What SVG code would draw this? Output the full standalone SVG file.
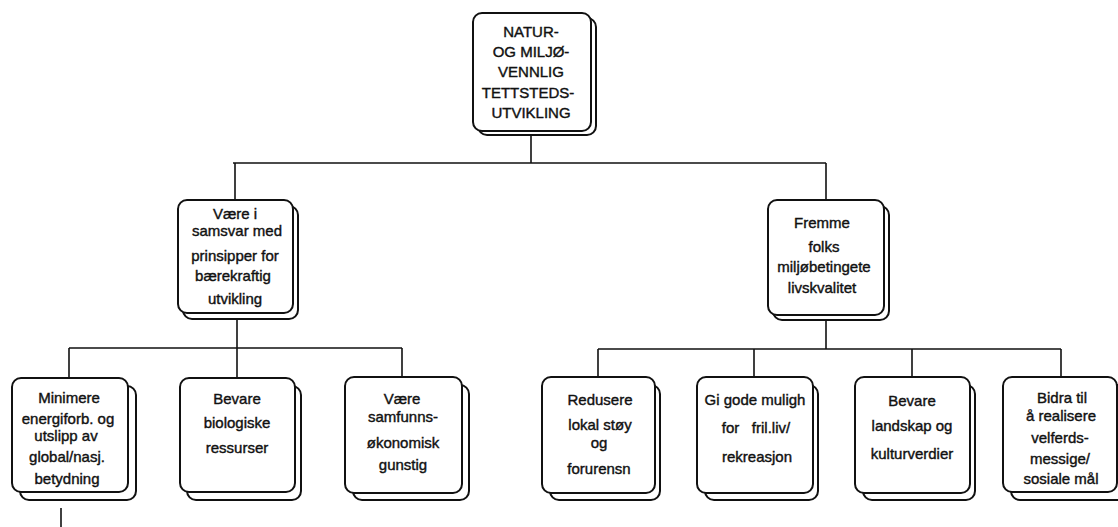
<svg xmlns="http://www.w3.org/2000/svg" width="1118" height="527" viewBox="0 0 1118 527">
<style>
.bg{fill:#ffffff}
.sh{fill:#ffffff;stroke:#111;stroke-width:2}
.box{fill:#ffffff;stroke:#111;stroke-width:2}
.t{font-family:"Liberation Sans",Arial,sans-serif;font-size:15px;fill:#111;stroke:#111;stroke-width:0.4;text-anchor:middle}
.ln{stroke:#111;stroke-width:1.6;fill:none}
</style>
<rect class="bg" x="0" y="0" width="1118" height="527"/>
<g id="connectors">
<path class="ln" d="M531 135 V163 M233 163 H826 M235 163 V200 M826 163 V200"/>
<path class="ln" d="M237 319 V348 M69 348 H402 M69 348 V378 M237 348 V378 M402 348 V377"/>
<path class="ln" d="M826 320 V349 M598 349 H1061 M598 349 V377 M754 349 V377 M912 349 V377 M1061 349 V377"/>
<path class="ln" d="M61 508 V527"/>
</g>
<g id="n-top">
<rect class="sh" x="478" y="18" width="118" height="117" rx="9"/>
<rect class="box" x="473" y="13" width="118" height="118" rx="9"/>
<text class="t" x="531" y="37">NATUR-</text>
<text class="t" x="531" y="57">OG MILJØ-</text>
<text class="t" x="531" y="77">VENNLIG</text>
<text class="t" x="528" y="98">TETTSTEDS-</text>
<text class="t" x="531" y="118">UTVIKLING</text>
</g>
<g id="n-left">
<rect class="sh" x="183" y="206" width="115" height="113" rx="9"/>
<rect class="box" x="178" y="200" width="115" height="113" rx="9"/>
<text class="t" x="235" y="219">Være i</text>
<text class="t" x="237" y="236">samsvar med</text>
<text class="t" x="235" y="261">prinsipper for</text>
<text class="t" x="233" y="281">bærekraftig</text>
<text class="t" x="235" y="304">utvikling</text>
</g>
<g id="n-right">
<rect class="sh" x="773" y="206" width="116" height="114" rx="9"/>
<rect class="box" x="768" y="200" width="116" height="115" rx="9"/>
<text class="t" x="822" y="228">Fremme</text>
<text class="t" x="824" y="252">folks</text>
<text class="t" x="824" y="272">miljøbetingete</text>
<text class="t" x="822" y="293">livskvalitet</text>
</g>
<g id="n-b1">
<rect class="sh" x="20" y="386" width="116" height="114" rx="9"/>
<rect class="box" x="12" y="378" width="116" height="114" rx="9"/>
<text class="t" x="69" y="403">Minimere</text>
<text class="t" x="68" y="424">energiforb. og</text>
<text class="t" x="66" y="441">utslipp av</text>
<text class="t" x="67" y="462">global/nasj.</text>
<text class="t" x="67" y="484">betydning</text>
</g>
<g id="n-b2">
<rect class="sh" x="187" y="386" width="114" height="114" rx="9"/>
<rect class="box" x="180" y="378" width="115" height="114" rx="9"/>
<text class="t" x="237" y="404">Bevare</text>
<text class="t" x="237" y="428">biologiske</text>
<text class="t" x="237" y="453">ressurser</text>
</g>
<g id="n-b3">
<rect class="sh" x="353" y="385" width="116" height="115" rx="9"/>
<rect class="box" x="345" y="377" width="117" height="116" rx="9"/>
<text class="t" x="402" y="404">Være</text>
<text class="t" x="403" y="422">samfunns-</text>
<text class="t" x="403" y="448">økonomisk</text>
<text class="t" x="403" y="470">gunstig</text>
</g>
<g id="n-b4">
<rect class="sh" x="550" y="385" width="110" height="115" rx="9"/>
<rect class="box" x="542" y="377" width="113" height="116" rx="9"/>
<text class="t" x="600" y="405">Redusere</text>
<text class="t" x="600" y="430">lokal støy</text>
<text class="t" x="599" y="448">og</text>
<text class="t" x="599" y="474">forurensn</text>
</g>
<g id="n-b5">
<rect class="sh" x="705" y="385" width="113" height="115" rx="9"/>
<rect class="box" x="697" y="377" width="116" height="116" rx="9"/>
<text class="t" x="755" y="405">Gi gode muligh</text>
<text class="t" x="756" y="433" xml:space="preserve">for   fril.liv/</text>
<text class="t" x="757" y="462">rekreasjon</text>
</g>
<g id="n-b6">
<rect class="sh" x="863" y="385" width="112" height="115" rx="9"/>
<rect class="box" x="855" y="377" width="115" height="116" rx="9"/>
<text class="t" x="912" y="406">Bevare</text>
<text class="t" x="912" y="431">landskap og</text>
<text class="t" x="912" y="459">kulturverdier</text>
</g>
<g id="n-b7">
<rect class="sh" x="1011" y="385" width="115" height="115" rx="9"/>
<rect class="box" x="1003" y="377" width="114" height="115" rx="9"/>
<text class="t" x="1062" y="403">Bidra til</text>
<text class="t" x="1061" y="421">å realisere</text>
<text class="t" x="1060" y="443">velferds-</text>
<text class="t" x="1060" y="464">messige/</text>
<text class="t" x="1061" y="484">sosiale mål</text>
</g>
</svg>
